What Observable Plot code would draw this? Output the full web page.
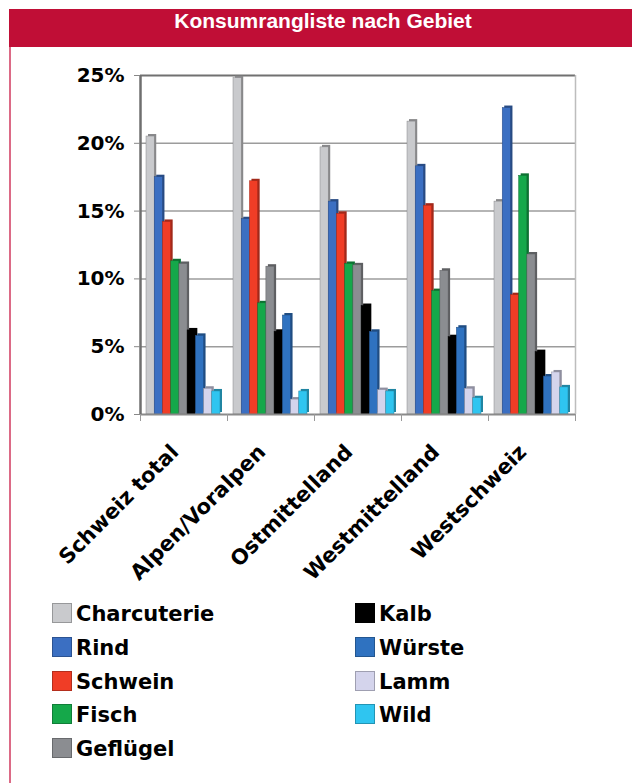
<!DOCTYPE html>
<html lang="de">
<head>
<meta charset="utf-8">
<script src="https://cdn.jsdelivr.net/npm/d3@7"></script>
<script src="https://cdn.jsdelivr.net/npm/@observablehq/plot@0.6"></script>
<style>
  html, body { margin: 0; padding: 0; background: #fff; }
  #box { position: absolute; left: 9px; top: 9px; width: 623px; height: 774px; }
  #title {
    height: 38px; line-height: 38px; background: #c00e36; color: #fff;
    font: bold 21px "Liberation Sans", Arial, sans-serif; text-align: center;
    padding-left: 5px; box-sizing: border-box;
  }
  #panel { position: relative; height: 736px; border-left: 2px solid #dc6a86; }
  #chart { position: absolute; left: 0; top: 0; }
  #legend { position: absolute; left: 0; top: 0; width: 632px; height: 783px; pointer-events: none; }
  .sw { position: absolute; width: 20px; height: 20px; box-sizing: border-box; border: 1px solid; }
  .lb { position: absolute; font: bold 21px "DejaVu Sans", sans-serif; line-height: 21px; color: #000; white-space: nowrap; }
</style>
</head>
<body>
<div id="box">
  <div id="title">Konsumrangliste nach Gebiet</div>
  <div id="panel"><div id="chart"></div></div>
</div>
<div id="legend"></div>
<script>
// Regions (groups) and meat categories (bars within each group)
const regions = ["Schweiz total", "Alpen/Voralpen", "Ostmittelland", "Westmittelland", "Westschweiz"];
const kinds = ["Charcuterie", "Rind", "Schwein", "Fisch", "Geflügel", "Kalb", "Würste", "Lamm", "Wild"];
const kindColors = ["#c9cacd", "#3b6fc2", "#f03d26", "#15a84a", "#8b8d91", "#000000", "#2f72c0", "#d4d4ec", "#2fc5f0"];

// Share of consumption in percent, one value per region
const charcuterie = [20.5, 24.8, 19.7, 21.6, 15.7];
const rind        = [17.5, 14.4, 15.7, 18.3, 22.6];
const schwein     = [14.2, 17.2, 14.8, 15.4,  8.8];
const fisch       = [11.3,  8.2, 11.1,  9.1, 17.6];
const gefluegel   = [11.1, 10.9, 11.0, 10.6, 11.8];
const kalb        = [ 6.2,  6.1,  8.0,  5.7,  4.6];
const wuerste     = [ 5.8,  7.3,  6.1,  6.4,  2.8];
const lamm        = [ 1.9,  1.1,  1.8,  1.9,  3.1];
const wild        = [ 1.7,  1.7,  1.7,  1.2,  2.0];

const yTicks = [0, 5, 10, 15, 20, 25];

const series = [charcuterie, rind, schwein, fisch, gefluegel, kalb, wuerste, lamm, wild];
const colorOf = new Map(kinds.map((k, i) => [k, kindColors[i]]));
const darkOf = new Map(kinds.map((k, i) => [k, d3.color(kindColors[i]).darker(1.1).formatHex()]));

// Layout of the nine bars inside one region slot (fractions of a slot)
const slotStart = 0.069;
const barW = 0.0945;

const table = regions.flatMap((region, g) =>
  kinds.map((kind, t) => ({region, kind, g, t, value: series[t][g]}))
);
const x1 = d => d.g + slotStart + d.t * barW;
const x2 = d => d.g + slotStart + (d.t + 1) * barW;

const W = 621, H = 555;
const chart = Plot.plot({
  width: W,
  height: H,
  marginLeft: 129,
  marginRight: 57,
  marginTop: 28,
  marginBottom: 188,
  style: {fontFamily: "'DejaVu Sans', sans-serif", fontWeight: "bold", fontSize: "20px", background: "#fff", color: "#000"},
  x: {domain: [0, regions.length]},
  y: {domain: [0, 25]},
  color: {type: "identity"},
  marks: [
    // background grid and frame
    Plot.ruleY(yTicks.filter(v => v > 0 && v < 25), {stroke: "#9c9c9c", strokeWidth: 1.5}),
    Plot.ruleY([25], {stroke: "#717171", strokeWidth: 2}),
    Plot.ruleX([regions.length], {y1: 0, y2: 25, stroke: "#bdbdbd", strokeWidth: 1.5}),
    // depth faces of the bars
    Plot.rectY(table, {x1, x2, y: "value", fill: d => darkOf.get(d.kind), dx: 2, dy: -2}),
    // front faces
    Plot.rectY(table, {x1, x2, y: "value", fill: d => colorOf.get(d.kind), stroke: d => darkOf.get(d.kind), strokeWidth: 0.5}),
    Plot.ruleY([0], {stroke: "#8a8a8a", strokeWidth: 2}),
    Plot.ruleX([0], {y1: 0, y2: 25, stroke: "#6f6f6f", strokeWidth: 2.5}),
    Plot.axisY({ticks: yTicks, tickFormat: d => d + "%", tickSize: 6, tickPadding: 10, stroke: "#888", label: null, fontSize: 20}),
    Plot.axisX({ticks: d3.range(regions.length + 1), tickSize: 7, tickFormat: () => "", stroke: "#999", label: null}),
    Plot.text(regions, {
      x: (d, i) => i + 0.5,
      frameAnchor: "bottom",
      dx: -9, dy: 34,
      rotate: -45,
      textAnchor: "end",
      lineAnchor: "middle",
      fontSize: 21,
      fill: "#000"
    })
  ]
});
document.getElementById("chart").appendChild(chart);

// Two-column legend: five entries on the left, four on the right
const legend = document.getElementById("legend");
kinds.forEach((kind, i) => {
  const col = i < 5 ? 0 : 1;
  const row = col === 0 ? i : i - 5;
  const left = col === 0 ? 52 : 355;
  const top = 603 + row * 33.8;
  const sw = document.createElement("div");
  sw.className = "sw";
  sw.style.left = left + "px";
  sw.style.top = top + "px";
  sw.style.background = colorOf.get(kind);
  sw.style.borderColor = d3.color(colorOf.get(kind)).darker(0.8).formatHex();
  legend.appendChild(sw);
  const lb = document.createElement("div");
  lb.className = "lb";
  lb.style.left = (left + 24) + "px";
  lb.style.top = (top + 1) + "px";
  lb.textContent = kind;
  legend.appendChild(lb);
});
</script>
</body>
</html>
